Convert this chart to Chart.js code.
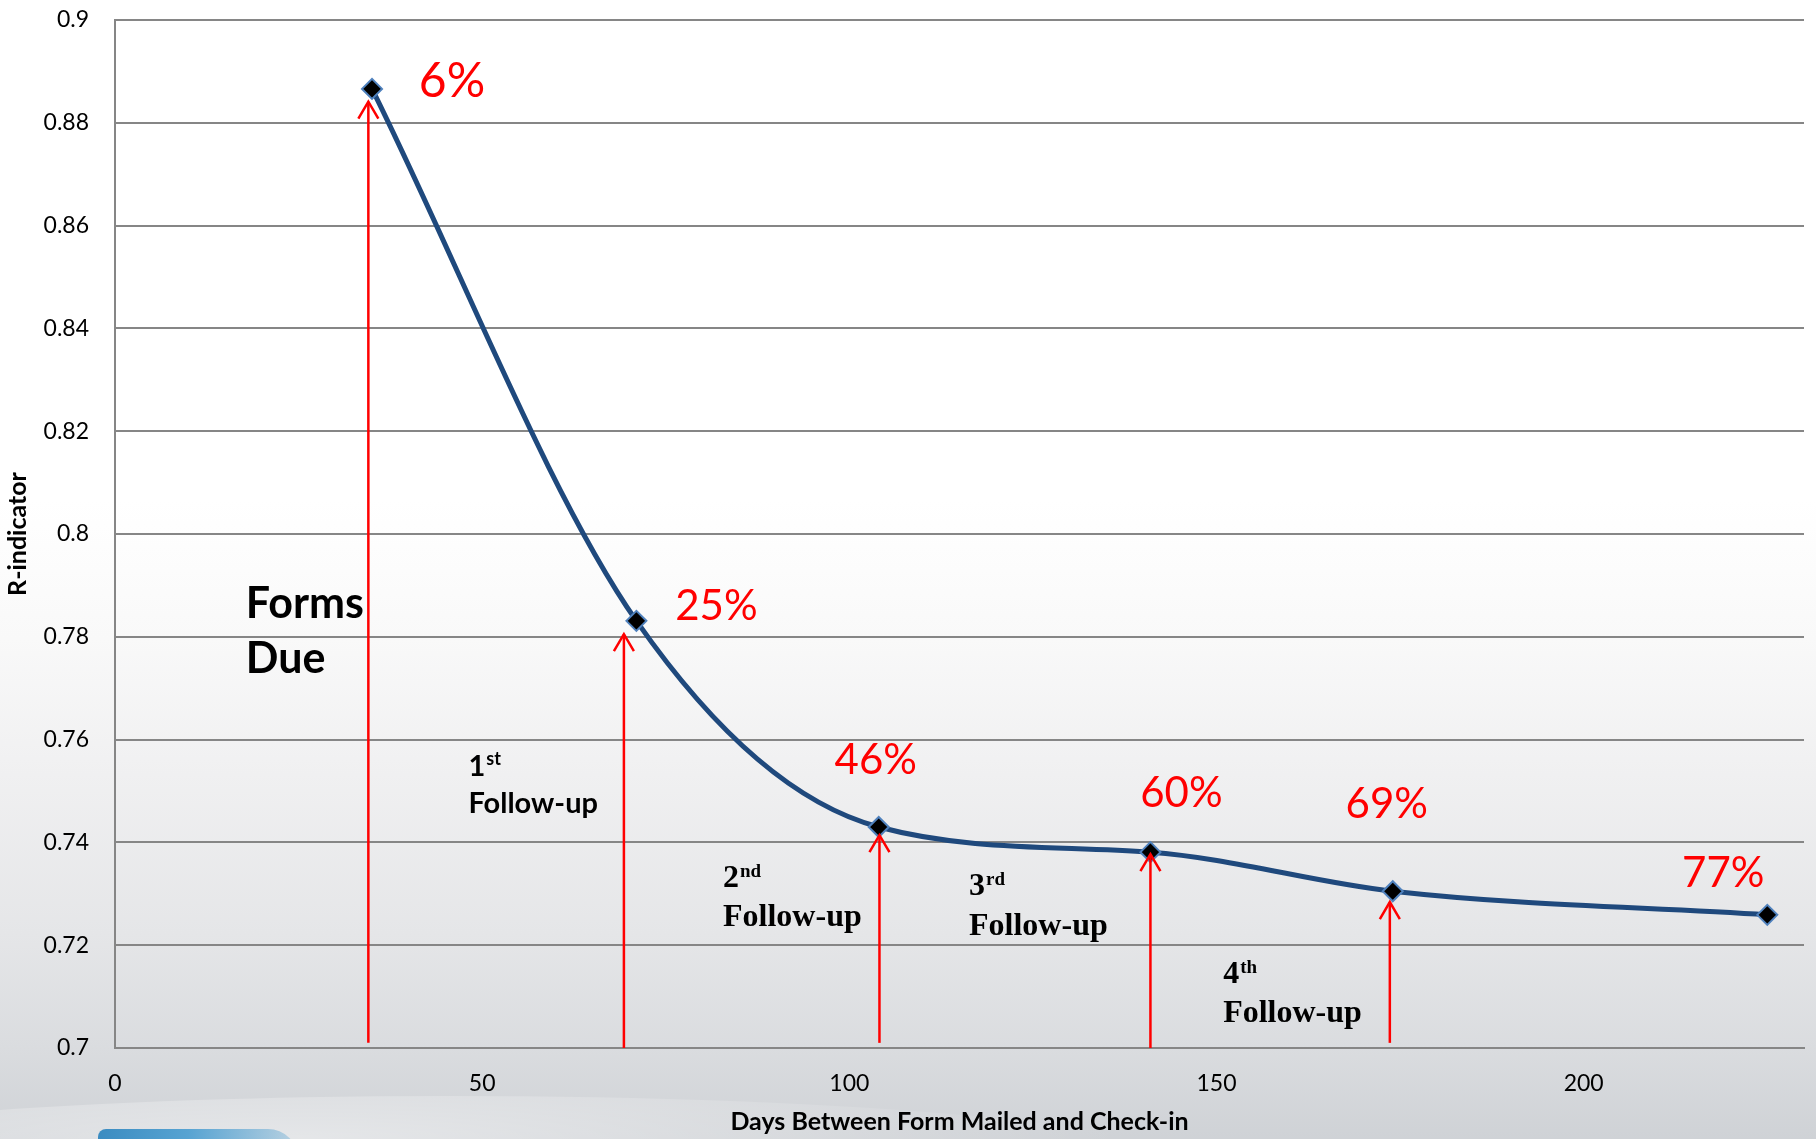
<!DOCTYPE html>
<html>
<head>
<meta charset="utf-8">
<title>R-indicator by Days Between Form Mailed and Check-in</title>
<script src="https://cdn.jsdelivr.net/npm/chart.js@4.4.1/dist/chart.umd.min.js"></script>
<style>
  html, body { margin: 0; padding: 0; }
  body {
    width: 1816px; height: 1139px; overflow: hidden; position: relative;
    background: linear-gradient(to bottom,
      #ffffff 0%, #ffffff 44%, #f9f9f9 56%, #f0f0f1 68%,
      #e5e6e8 82%, #dadcdf 92%, #cfd2d6 100%);
  }
  .swoosh {
    position: absolute; left: -300px; top: 1096px; width: 1500px; height: 140px;
    border-radius: 50%;
    background: radial-gradient(ellipse at 40% 30%, rgba(255,255,255,0.45), rgba(255,255,255,0) 65%);
  }
  .band {
    position: absolute; left: 98px; top: 1129px; width: 200px; height: 30px;
    border-radius: 16px 60px 0 0;
    background: linear-gradient(to right, #3b8cc1, #57a3d2 45%, rgba(87,163,210,0.3));
  }
  #wrap { position: absolute; left: 0; top: 0; width: 1816px; height: 1139px; }
</style>
</head>
<body>
<div class="swoosh"></div>
<div class="band"></div>
<div id="wrap"><canvas id="chart"></canvas></div>
<script>
// Measured R-indicator after each mailing wave
const days = [35, 71, 104, 141, 174, 225];
const rIndicator = [0.8866, 0.7831, 0.7430, 0.7381, 0.7305, 0.7259];
const responseRates = ['6%', '25%', '46%', '60%', '69%', '77%'];

// Mailing events (red arrows): day of mailing and where each arrow points
const mailingDays = [34.5, 69.3, 104.1, 141, 173.6];
const arrowTips = [0.8841, 0.7805, 0.7414, 0.7377, 0.7284];
const arrowBases = [0.701, 0.7, 0.701, 0.7, 0.701];

// Mailing captions: lead text, superscript, second line
const noteLead = ['Forms', '1', '2', '3', '4'];
const noteSup = ['', 'st', 'nd', 'rd', 'th'];
const noteTail = ['Due', 'Follow-up', 'Follow-up', 'Follow-up', 'Follow-up'];

// Axis ticks
const xTicks = [0, 50, 100, 150, 200];
const xTickLabels = ['0', '50', '100', '150', '200'];
const yTicks = [0.7, 0.72, 0.74, 0.76, 0.78, 0.8, 0.82, 0.84, 0.86, 0.88, 0.9];
const yTickLabels = ['0.7', '0.72', '0.74', '0.76', '0.78', '0.8', '0.82', '0.84', '0.86', '0.88', '0.9'];

// Placement of the response-rate labels relative to their point (px): dx to centre, dy to baseline
const rateOffsets = [[80, 8], [80, -1], [-3, -53], [31, -45], [-6, -73], [-44, -28]];
const rateFontSizes = [48, 42, 42, 42, 42, 42];

// Caption anchors in axis units (left edge, first baseline) and text styles
const SANS = 'Lato, "Open Sans", sans-serif';
const SERIF = '"Liberation Serif", "DejaVu Serif", serif';
const notePlacement = [
  { day: 17.81, r: 0.78366, gap: 55, font: 'bold 43px ' + SANS, supFont: 'bold 17px ' + SANS, rise: 11 },
  { day: 48.13, r: 0.75292, gap: 37, font: 'bold 29px ' + SANS, supFont: 'bold 18px ' + SANS, rise: 11 },
  { day: 82.80, r: 0.73132, gap: 39, font: 'bold 32px ' + SERIF, supFont: 'bold 19px ' + SERIF, rise: 10 },
  { day: 116.3, r: 0.72977, gap: 40, font: 'bold 32px ' + SERIF, supFont: 'bold 19px ' + SERIF, rise: 10 },
  { day: 150.9, r: 0.71265, gap: 39, font: 'bold 32px ' + SERIF, supFont: 'bold 19px ' + SERIF, rise: 10 }
];

const annotations = {
  id: 'annotations',
  afterDatasetsDraw(chart) {
    const { ctx, scales: { x, y } } = chart;
    ctx.save();

    // red arrows for each mailing
    ctx.strokeStyle = '#ff0000';
    ctx.lineWidth = 2.5;
    ctx.lineCap = 'butt';
    mailingDays.forEach((d, i) => {
      const px = x.getPixelForValue(d);
      const top = y.getPixelForValue(arrowTips[i]);
      const base = y.getPixelForValue(arrowBases[i]);
      ctx.beginPath();
      ctx.moveTo(px, base);
      ctx.lineTo(px, top);
      ctx.stroke();
      ctx.beginPath();
      ctx.moveTo(px - 10, top + 17);
      ctx.lineTo(px, top);
      ctx.lineTo(px + 10, top + 17);
      ctx.stroke();
    });

    // response-rate labels
    ctx.fillStyle = '#ff0000';
    ctx.textAlign = 'center';
    ctx.textBaseline = 'alphabetic';
    responseRates.forEach((txt, i) => {
      const px = x.getPixelForValue(days[i]);
      const py = y.getPixelForValue(rIndicator[i]);
      ctx.font = rateFontSizes[i] + 'px ' + SANS;
      ctx.fillText(txt, px + rateOffsets[i][0], py + rateOffsets[i][1]);
    });

    // mailing captions
    ctx.fillStyle = '#000000';
    ctx.textAlign = 'left';
    noteLead.forEach((lead, i) => {
      const p = notePlacement[i];
      const left = x.getPixelForValue(p.day);
      const base = y.getPixelForValue(p.r);
      ctx.font = p.font;
      ctx.fillText(lead, left, base);
      if (noteSup[i]) {
        const w = ctx.measureText(lead).width;
        ctx.font = p.supFont;
        ctx.fillText(noteSup[i], left + w + 1, base - p.rise);
        ctx.font = p.font;
      }
      ctx.fillText(noteTail[i], left, base + p.gap);
    });

    ctx.restore();
  }
};

function build() {
  const tickFont = { family: SANS, size: 23 };
  const titleFont = { family: SANS, size: 25, weight: 'bold' };
  new Chart(document.getElementById('chart'), {
    type: 'line',
    data: {
      datasets: [{
        label: 'R-indicator',
        data: days.map((d, i) => ({ x: d, y: rIndicator[i] })),
        borderColor: '#1f497d',
        borderWidth: 5,
        cubicInterpolationMode: 'monotone',
        pointStyle: 'rectRot',
        pointRadius: 10,
        pointBackgroundColor: '#000000',
        pointBorderColor: '#4f81bd',
        pointBorderWidth: 2,
        clip: false
      }]
    },
    options: {
      responsive: true,
      maintainAspectRatio: false,
      animation: false,
      events: [],
      layout: { padding: { top: 20, right: 9, left: 0, bottom: 0 } },
      plugins: { legend: { display: false }, tooltip: { enabled: false } },
      scales: {
        x: {
          type: 'linear',
          min: 0,
          max: 230,
          afterBuildTicks: s => { s.ticks = xTicks.map(v => ({ value: v })); },
          // fixed axis height; no side overhang needed for these labels
          afterFit: s => { s.height = 91; s.paddingLeft = 0; s.paddingRight = 0; },
          grid: { display: false, drawTicks: false },
          border: { display: true, color: '#868686', width: 2 },
          ticks: {
            padding: 22, color: '#000000', font: tickFont,
            maxRotation: 0, autoSkip: false,
            callback: (v, i) => xTickLabels[i]
          },
          title: {
            display: true, text: 'Days Between Form Mailed and Check-in',
            color: '#000000', font: titleFont, padding: { top: 0, bottom: 2 }
          }
        },
        y: {
          min: 0.7,
          max: 0.9,
          afterBuildTicks: s => { s.ticks = yTicks.map(v => ({ value: v })); },
          // fixed axis width; label overhang is covered by the layout padding
          afterFit: s => { s.width = 115; s.paddingTop = 10; s.paddingBottom = 10; },
          grid: { color: '#868686', lineWidth: 2, drawTicks: false },
          border: { display: true, color: '#868686', width: 2 },
          ticks: {
            padding: 26, color: '#000000', font: tickFont,
            callback: (v, i) => yTickLabels[i]
          },
          title: {
            display: true, text: 'R-indicator',
            color: '#000000', font: titleFont, padding: { top: 3, bottom: 0 }
          }
        }
      }
    },
    plugins: [annotations]
  });
}

const fontsWanted = ['23px Lato', 'bold 25px Lato', '42px Lato', 'bold 32px "Liberation Serif"'];
Promise.all(fontsWanted.map(f => document.fonts.load(f)))
  .catch(() => {})
  .then(build);
</script>
</body>
</html>
